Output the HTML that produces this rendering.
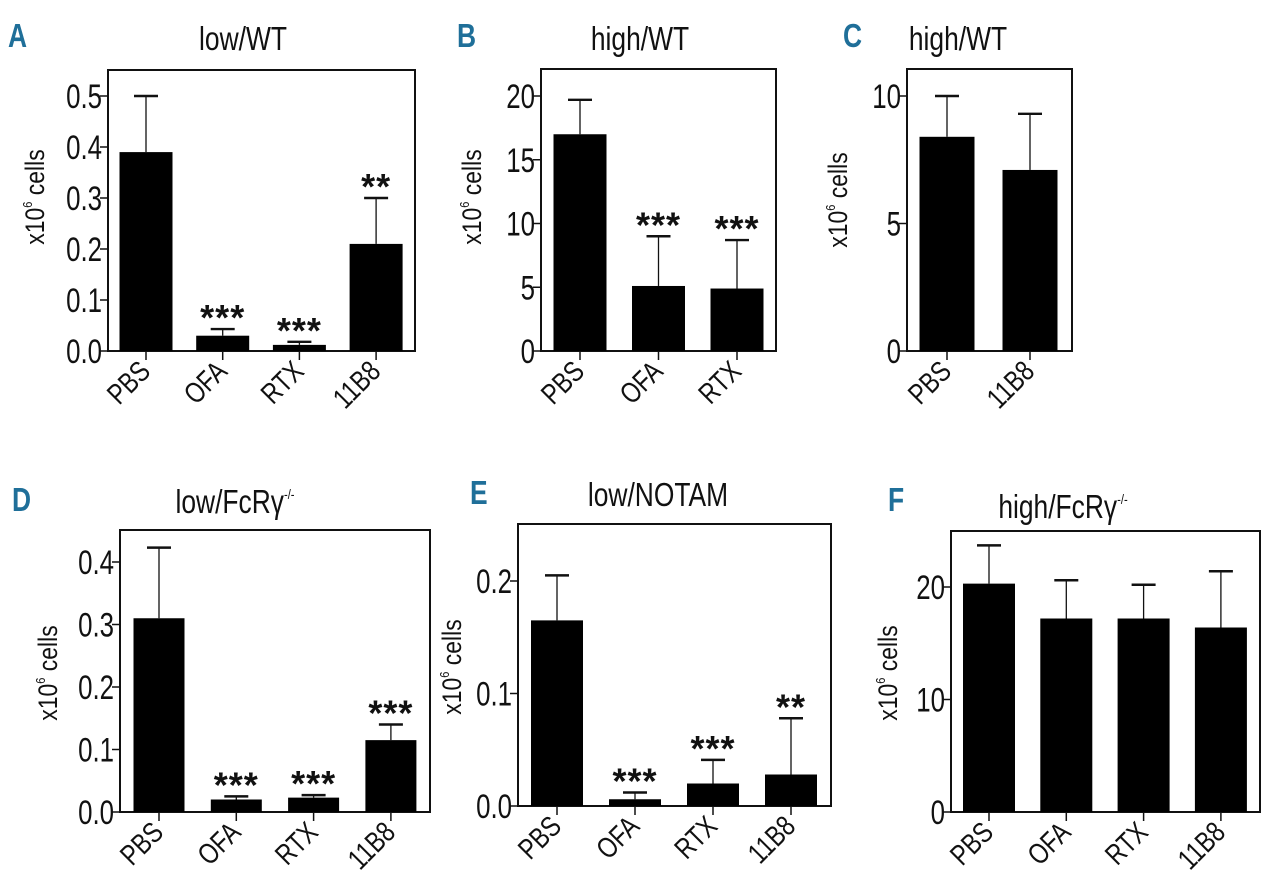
<!DOCTYPE html>
<html><head><meta charset="utf-8"><style>
html,body{margin:0;padding:0;background:#fff;width:1280px;height:892px;overflow:hidden}
svg{display:block}
text{font-family:"Liberation Sans",sans-serif;fill:#111}
</style></head><body>
<svg id="fig" width="1280" height="892" viewBox="0 0 1280 892" xmlns="http://www.w3.org/2000/svg"></svg>
<script>
// ---- data ----
const catsA = ["PBS","OFA","RTX","11B8"];
const valsA = [0.39,0.03,0.012,0.21];
const errA  = [0.50,0.043,0.018,0.30];
const sigA  = ["","***","***","**"];
const ticksA = [0,0.1,0.2,0.3,0.4,0.5];
const tickLabA = ["0.0","0.1","0.2","0.3","0.4","0.5"];

const catsB = ["PBS","OFA","RTX"];
const valsB = [17,5.1,4.9];
const errB  = [19.7,9.0,8.7];
const sigB  = ["","***","***"];
const ticksB = [0,5,10,15,20];
const tickLabB = ["0","5","10","15","20"];

const catsC = ["PBS","11B8"];
const valsC = [8.4,7.1];
const errC  = [10.0,9.3];
const sigC  = ["",""];
const ticksC = [0,5,10];
const tickLabC = ["0","5","10"];

const catsD = ["PBS","OFA","RTX","11B8"];
const valsD = [0.31,0.02,0.023,0.115];
const errD  = [0.423,0.025,0.027,0.14];
const sigD  = ["","***","***","***"];
const ticksD = [0,0.1,0.2,0.3,0.4];
const tickLabD = ["0.0","0.1","0.2","0.3","0.4"];

const catsE = ["PBS","OFA","RTX","11B8"];
const valsE = [0.165,0.006,0.02,0.028];
const errE  = [0.205,0.012,0.041,0.078];
const sigE  = ["","***","***","**"];
const ticksE = [0,0.1,0.2];
const tickLabE = ["0.0","0.1","0.2"];

const catsF = ["PBS","OFA","RTX","11B8"];
const valsF = [20.3,17.2,17.2,16.4];
const errF  = [23.7,20.6,20.2,21.4];
const sigF  = ["","","",""];
const ticksF = [0,10,20];
const tickLabF = ["0","10","20"];

const NS = "http://www.w3.org/2000/svg";
const svg = document.getElementById('fig');
function mk(tag, attrs, parent){
  const e = document.createElementNS(NS, tag);
  for (const k in attrs) e.setAttribute(k, attrs[k]);
  (parent||svg).appendChild(e);
  return e;
}
function txt(parent, x, y, s, size, sx, anchor, rot){
  const g = mk('g', {transform:`translate(${x},${y})` + (rot?` rotate(${rot})`:'') + ` scale(${sx},1)`}, parent);
  const t = mk('text', {x:0, y:0, 'font-size':size, 'text-anchor':anchor||'start'}, g);
  t.textContent = s;
  return g;
}

function panel(p){
  const g = mk('g', {});
  
  
  const y = v => p.y0 - v * p.ppu;
  const lg = mk('g', {transform:`translate(${p.lx},${p.ly}) scale(0.8,1)`}, g);
  
  
  const L = mk('text', {x:0, y:0, 'font-size':33, 'font-weight':'bold', style:'fill:#1f6f99'}, lg);
  L.textContent = p.id;
  const tg = mk('g', {transform:`translate(${p.tx},${p.ty}) scale(0.8,1)`}, g);
  
  
  const tt = mk('text', {x:0, y:0, 'font-size':33, 'text-anchor':'middle'}, tg);
  tt.textContent = p.title;
  if (p.sup){ const ts = mk('tspan', {'font-size':14, dy:-14}, tt); ts.textContent = p.sup; }
  const yg = mk('g', {transform:`translate(${p.ytx},${p.yty}) rotate(-90) scale(0.85,1)`}, g);
  
  
  const yt = mk('text', {x:0, y:0, 'font-size':27, 'text-anchor':'middle'}, yg);
  const a = mk('tspan', {}, yt); a.textContent = 'x10';
  const b = mk('tspan', {'font-size':13, dy:-12}, yt); b.textContent = '6';
  const c = mk('tspan', {dy:12}, yt); c.textContent = ' cells';
  const box = mk('rect', {x:p.x0, y:p.top, width:p.x1-p.x0, height:p.y0-p.top, fill:'none', stroke:'#111', 'stroke-width':2}, g);
  
  
  p.ticks.forEach((v,i)=>{
    const ty = y(v);
    const tl = mk('line', {x1:p.x0-8, x2:p.x0, y1:ty, y2:ty, stroke:'#111', 'stroke-width':1.5}, g);
    
    
    const lab = txt(g, p.x0-6, ty+12, p.tickLab[i], 34, 0.76, 'end');
    
    
  });
  p.cats.forEach((cat,i)=>{
    const cx = p.c0 + i * p.step;
    const bar = mk('rect', {x:cx-p.bw/2, y:y(p.vals[i]), width:p.bw, height:p.y0-y(p.vals[i]), fill:'#000'}, g);
    
    
    const ey = y(p.errs[i]);
    const st = mk('line', {x1:cx, x2:cx, y1:y(p.vals[i]), y2:ey, stroke:'#111', 'stroke-width':1.3}, g);
    
    
    const cp = mk('line', {x1:cx-12, x2:cx+12, y1:ey, y2:ey, stroke:'#111', 'stroke-width':2.4}, g);
    
    
    const xt = mk('line', {x1:cx, x2:cx, y1:p.y0, y2:p.y0+9, stroke:'#111', 'stroke-width':1.5}, g);
    
    
    const xl = txt(g, cx+6, p.y0+22, cat, 29, 0.8, 'end', -45);
    
    
    if (p.sig[i]){
      const s = mk('text', {x:cx, y:ey+1, 'font-size':36, 'font-weight':'bold', 'text-anchor':'middle', 'letter-spacing':1}, g);
      s.textContent = p.sig[i];
      
      
    }
  });
}

panel({id:'A', title:'low/WT', lx:8, ly:47, tx:243, ty:50, ytx:44, yty:197,
  x0:108, x1:415, top:70, y0:351, ppu:510, c0:146, step:76.7, bw:53,
  cats:catsA, vals:valsA, errs:errA, sig:sigA, ticks:ticksA, tickLab:tickLabA});
panel({id:'B', title:'high/WT', lx:457, ly:47, tx:640, ty:50, ytx:481, yty:197,
  x0:541, x1:776, top:69, y0:351, ppu:12.75, c0:580, step:78.5, bw:53,
  cats:catsB, vals:valsB, errs:errB, sig:sigB, ticks:ticksB, tickLab:tickLabB});
panel({id:'C', title:'high/WT', lx:843, ly:47, tx:958, ty:50, ytx:847, yty:200,
  x0:907, x1:1072, top:69, y0:351, ppu:25.5, c0:947, step:83, bw:55,
  cats:catsC, vals:valsC, errs:errC, sig:sigC, ticks:ticksC, tickLab:tickLabC});
panel({id:'D', title:'low/FcRγ', sup:'-/-', lx:12, ly:511, tx:235, ty:513, ytx:57, yty:673,
  x0:120, x1:430, top:530, y0:812, ppu:625, c0:159, step:77.3, bw:51,
  cats:catsD, vals:valsD, errs:errD, sig:sigD, ticks:ticksD, tickLab:tickLabD});
panel({id:'E', title:'low/NOTAM', lx:470, ly:504, tx:658, ty:506, ytx:461, yty:667,
  x0:518, x1:831, top:524, y0:806, ppu:1125, c0:557, step:78, bw:52,
  cats:catsE, vals:valsE, errs:errE, sig:sigE, ticks:ticksE, tickLab:tickLabE});
panel({id:'F', title:'high/FcRγ', sup:'-/-', lx:888, ly:511, tx:1063, ty:518, ytx:897, yty:673,
  x0:951, x1:1260, top:531, y0:812, ppu:11.25, c0:989, step:77.3, bw:52,
  cats:catsF, vals:valsF, errs:errF, sig:sigF, ticks:ticksF, tickLab:tickLabF});
</script>
</body></html>
